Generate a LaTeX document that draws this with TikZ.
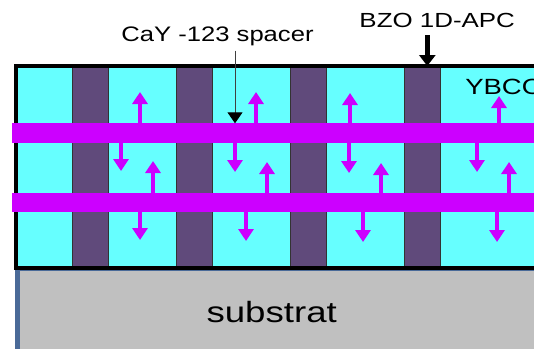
\documentclass[tikz,border=0pt]{standalone}
\usepackage{fontspec}
\setmainfont{Liberation Sans}
\usetikzlibrary{arrows.meta,calc}
\definecolor{ybcocyan}{HTML}{66FFFF}
\definecolor{bzopurple}{HTML}{604A7B}
\definecolor{spacermag}{HTML}{CC00FF}
\definecolor{subgray}{HTML}{C0C0C0}
\definecolor{subedge}{HTML}{4A6A98}

\begin{document}
\begin{tikzpicture}[x=1pt,y=-1pt,
    magarrow/.style={spacermag,line width=4pt,-{Triangle[width=15pt,length=12pt]}},
    textlabel/.style={inner sep=0pt}]
      \useasboundingbox (0,0) rectangle (534,348);
      \clip (0,0) rectangle (534,348);
      \fill[subgray,draw=subedge,line width=5pt] (17.5,268) rectangle (545,360);
      \fill[ybcocyan] (16,66) rectangle (545,268);
      \foreach \x in {72,176,290,404}{\draw[fill=bzopurple,draw=black!80,line width=.6pt] (\x,67) rectangle (\x+36,267);}
      \draw[line width=4pt] (545,66) -- (16,66) -- (16,267.7) -- (545,267.7);
      \foreach \y in {123.3,192.7}{\fill[spacermag] (12,\y) rectangle (545,\y+19.3);}
      \foreach \x/\t in {140/92,256/92,350/93,499/96}{\draw[magarrow] (\x,124) -- (\x,\t);}
      \foreach \x/\t in {121/171,235/172,349/173,477/172}{\draw[magarrow] (\x,141.5) -- (\x,\t);}
      \foreach \x/\t in {153/161,267/162,381/163,509/162}{\draw[magarrow] (\x,193.5) -- (\x,\t);}
      \foreach \x/\t in {140/240,246/241,363/242,497/242}{\draw[magarrow] (\x,211.5) -- (\x,\t);}
      \node[textlabel,font=\fontsize{21}{25}\selectfont,anchor=base,xscale=1.22] (spacer) at (217.5,41) {CaY -123 spacer};
      \coordinate (spacertip) at (235,123.3);
      \draw[black!75,line width=1pt,-{Triangle[width=15pt,length=11pt,fill=black,color=black]}] ([yshift=-5pt]spacer.south -| spacertip) -- (spacertip);
      \node[textlabel,font=\fontsize{20.4}{24}\selectfont,anchor=base,xscale=1.27] (apc) at (437.2,27.3) {BZO 1D-APC};
      \coordinate (apctip) at (427.3,66);
      \draw[line width=4.5pt,-{Triangle[width=16pt,length=11pt]}] ([yshift=-7.7pt]apc.south -| apctip) -- (apctip);
      \node[textlabel,font=\fontsize{22}{26}\selectfont,anchor=base west,xscale=1.25] (ybco) at (465,94) {YBCO};
      \node[textlabel,font=\fontsize{29.3}{34}\selectfont,anchor=base,xscale=1.25] (substrat) at (271.7,322.7) {substrat};
    \end{tikzpicture}
\end{document}
